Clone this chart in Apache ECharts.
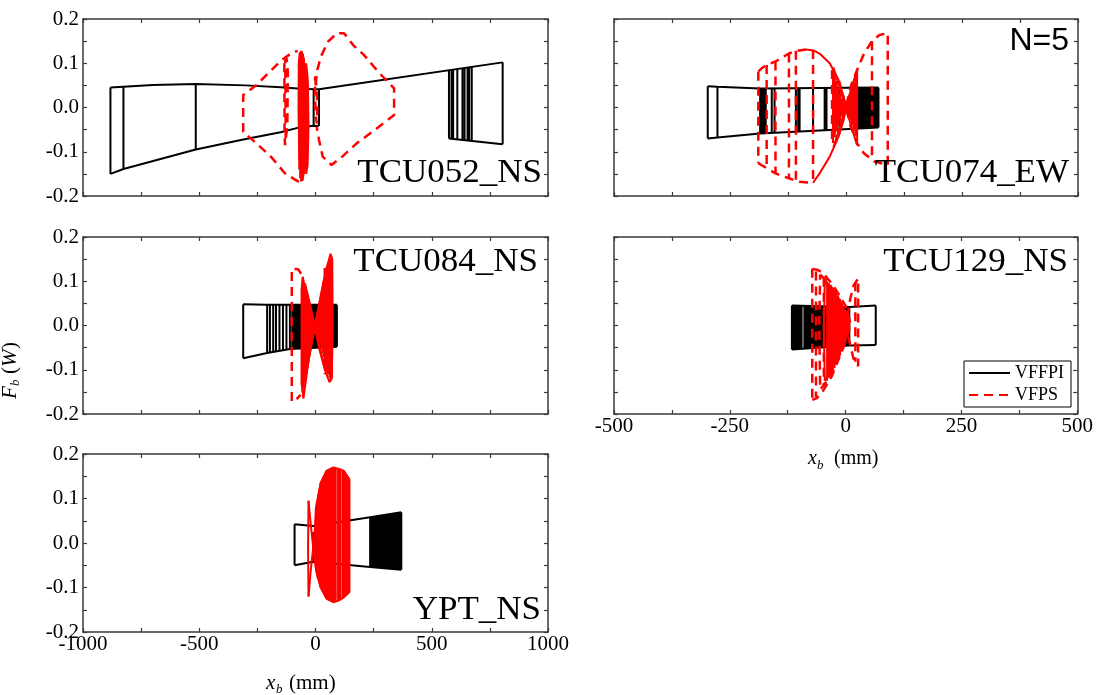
<!DOCTYPE html>
<html>
<head>
<meta charset="utf-8">
<script src="https://cdn.jsdelivr.net/npm/echarts@6/dist/echarts.min.js"></script>
<style>
  html, body { margin: 0; padding: 0; background: #fff; }
  #chart { width: 1096px; height: 695px; }
</style>
</head>
<body>
<div id="chart"></div>
<script>
// Record names shown in each panel
const panelNames = ['TCU052_NS', 'TCU074_EW', 'TCU084_NS', 'TCU129_NS', 'YPT_NS'];
const seriesNames = ['VFFPI', 'VFPS'];
// Axis ranges: bearing displacement x_b (mm) and normalised force F_b/W
const wideX = [-1000, 1000];
const narrowX = [-500, 500];
const forceY = [-0.2, 0.2];

// Edges are polylines [x_b, F_b/W]; strokes are reversal segments [x_b, F_top, F_bottom].

// ---------- TCU052_NS ----------
const tcu052VffpiEdges = [
  [[-882,0.045],[-826,0.047],[-700,0.051],[-515,0.053],[-300,0.050],[-150,0.046],[-77,0.043],[-8,0.041],[15,0.041]],
  [[-882,-0.150],[-826,-0.139],[-515,-0.095],[-300,-0.071],[-150,-0.056],[-77,-0.046],[-8,-0.041],[15,-0.042]],
  [[15,0.041],[805,0.102]],
  [[574,-0.070],[805,-0.083]]
];
const tcu052VffpiStrokes = [
  [-882,0.045,-0.150],[-826,0.047,-0.139],[-515,0.053,-0.095],[-8,0.041,-0.041],[15,0.041,-0.042],
  [574,0.084,-0.070],[585,0.085,-0.071],[592,0.085,-0.071],[610,0.087,-0.072],[632,0.088,-0.073],
  [641,0.089,-0.074],[654,0.090,-0.075],[661,0.091,-0.075],[672,0.092,-0.076],[805,0.102,-0.083]
];
const tcu052VfpsDashed = [
  [[-72,-0.168],[-131,-0.149],[-192,-0.111],[-254,-0.081],[-311,-0.055],[-311,0.028],[-254,0.051],[-146,0.107],[-100,0.124],[-77,0.128]],
  [[0,0.051],[8,0.085],[23,0.115],[54,0.149],[92,0.168],[123,0.168],[162,0.141],[208,0.119],[269,0.081],[338,0.043],[338,-0.017],[254,-0.051],[177,-0.081],[115,-0.111],[69,-0.130],[31,-0.111],[15,-0.073],[5,-0.043]],
  [[-134,0.100],[-133,-0.060],[-131,-0.085],[-126,-0.089],[-121,-0.040],[-119,0.080],[-124,0.111],[-130,0.106],[-128,-0.070]],
  [[-2,0.070],[4,0.050],[8,0.000],[6,-0.036],[1,-0.020],[-2,0.030],[-2,0.070]]
];
const tcu052VfpsDense = [
  [[-72,0.100],[-68,0.124],[-60,0.128],[-52,0.115],[-48,0.050],[-45,-0.050],[-48,-0.140],[-56,-0.166],[-64,-0.162],[-70,-0.110],[-73,0.000],[-72,0.100]],
  [[-40,0.100],[-33,0.060],[-30,-0.040],[-34,-0.130],[-40,-0.150],[-44,-0.050],[-40,0.100]]
];
const tcu052VfpsFill = [
  [-70,0.110,-0.140],[-66,0.124,-0.160],[-62,0.128,-0.167],[-58,0.127,-0.166],[-54,0.122,-0.160],
  [-50,0.112,-0.150],[-46,0.100,-0.138],[-42,0.088,-0.120],[-38,0.070,-0.100],[-34,0.050,-0.075]
];

// ---------- TCU074_EW ----------
const tcu074VffpiEdges = [
  [[-298,0.048],[-277,0.047],[-185,0.043],[70,0.045]],
  [[-298,-0.070],[-277,-0.068],[-185,-0.059],[70,-0.045]]
];
const tcu074VffpiStrokes = [
  [-298,0.048,-0.070],[-277,0.047,-0.068],[-185,0.043,-0.059],[-182,0.043,-0.059],[-179,0.043,-0.059],
  [-176,0.043,-0.058],[-173,0.043,-0.058],[-160,0.043,-0.058],[-154,0.043,-0.057],[-108,0.044,-0.055],
  [-103,0.044,-0.054],[-100,0.044,-0.054],[-71,0.044,-0.052],[-46,0.044,-0.051],[-42,0.044,-0.051],
  [-20,0.044,-0.049],[-14,0.044,-0.049],[23,0.045,-0.048],[26,0.045,-0.047],[29,0.045,-0.047],
  [32,0.045,-0.047],[35,0.045,-0.047],[38,0.045,-0.047],[41,0.045,-0.047],[44,0.045,-0.046],
  [47,0.045,-0.046],[50,0.045,-0.046],[53,0.045,-0.046],[56,0.045,-0.046],[59,0.045,-0.046],
  [62,0.045,-0.045],[65,0.045,-0.045],[68,0.045,-0.045],[70,0.045,-0.045]
];
const tcu074VfpsDashed = [
  [[-189,0.081],[-180,0.090],[-171,0.096],[-152,0.104],[-123,0.122],[-108,0.128],[-86,0.131]],
  [[-189,-0.126],[-171,-0.137],[-152,-0.149],[-123,-0.160],[-101,-0.168],[-71,-0.170]],
  [[-189,0.081],[-189,-0.126]],
  [[-171,0.096],[-171,-0.137]],
  [[-152,0.104],[-152,-0.149]],
  [[-123,0.122],[-123,-0.160]],
  [[-108,0.128],[-108,-0.165]],
  [[-71,0.130],[-71,-0.170]],
  [[-30,0.085],[-30,-0.085]],
  [[-15,-0.060],[0,0.000],[10,0.047],[24,0.085],[39,0.122],[56,0.150],[72,0.164],[90,0.168],[90,-0.130],[61,-0.122],[39,-0.104],[24,-0.081],[10,-0.043],[0,0.000],[-15,0.060]],
  [[56,0.150],[56,-0.118]]
];
const tcu074VfpsDense = [
  [[-86,0.131],[-70,0.129],[-57,0.122],[-35,0.100],[-16,0.062],[-5,0.024],[0,0.002],[-5,-0.028],[-16,-0.066],[-35,-0.111],[-57,-0.149],[-71,-0.170]],
  [[-27,0.090],[-15,0.050],[0,0.000],[12,-0.045],[24,-0.085]],
  [[-27,-0.090],[-15,-0.050],[0,0.000],[12,0.045],[24,0.085]]
];
const tcu074VfpsFill = [
  [-28,0.090,-0.080],[-24,0.075,-0.068],[-20,0.060,-0.055],[-16,0.045,-0.042],[-12,0.032,-0.030],
  [-8,0.020,-0.020],[-4,0.012,-0.012],[0,0.010,-0.010],[4,0.018,-0.018],[8,0.030,-0.028],
  [12,0.042,-0.040],[16,0.056,-0.052],[20,0.070,-0.064],[24,0.085,-0.078]
];

// ---------- TCU084_NS ----------
const tcu084VffpiEdges = [
  [[-311,0.048],[-208,0.047],[92,0.047]],
  [[-311,-0.074],[-208,-0.062],[-110,-0.053],[92,-0.048]]
];
const tcu084VffpiStrokes = [
  [-311,0.048,-0.074],[-208,0.047,-0.062],[-196,0.047,-0.061],[-182,0.047,-0.059],[-170,0.047,-0.058],
  [-155,0.047,-0.057],[-140,0.047,-0.056],[-125,0.047,-0.054],[-110,0.047,-0.053],
  [-100,0.047,-0.053],[-96,0.047,-0.053],[-92,0.047,-0.053],[-88,0.047,-0.053],[-84,0.047,-0.052],
  [-80,0.047,-0.052],[-76,0.047,-0.052],[-72,0.047,-0.052],[-68,0.047,-0.052],[-64,0.047,-0.052],
  [-60,0.047,-0.052],[-56,0.047,-0.051],[-52,0.047,-0.051],[-48,0.047,-0.051],[-44,0.047,-0.051],
  [-40,0.047,-0.051],[-36,0.047,-0.051],[-32,0.047,-0.050],[-28,0.047,-0.050],[-24,0.047,-0.050],
  [-20,0.047,-0.050],[-16,0.047,-0.050],[-12,0.047,-0.050],[-8,0.047,-0.050],[-4,0.047,-0.050],
  [0,0.047,-0.050],[4,0.047,-0.050],[8,0.047,-0.049],[12,0.047,-0.049],[16,0.047,-0.049],
  [20,0.047,-0.049],[24,0.047,-0.049],[28,0.047,-0.049],[32,0.047,-0.049],[36,0.047,-0.049],
  [40,0.047,-0.049],[44,0.047,-0.049],[48,0.047,-0.048],[52,0.047,-0.048],[56,0.047,-0.048],
  [60,0.047,-0.048],[64,0.047,-0.048],[68,0.047,-0.048],[72,0.047,-0.048],[76,0.047,-0.048],
  [80,0.047,-0.048],[84,0.047,-0.048],[88,0.047,-0.048],[92,0.047,-0.048]
];
const tcu084VfpsDashed = [
  [[-62,0.117],[-74,0.127],[-102,0.128],[-102,-0.172],[-84,-0.168],[-64,-0.157]],
  [[40,0.130],[40,-0.110]],
  [[62,0.150],[62,-0.125]]
];
const tcu084VfpsDense = [
  [[-55,0.110],[-35,0.060],[-10,0.010],[15,-0.050],[40,-0.100],[60,-0.128],[70,-0.120],[74,0.000],[72,0.150],[65,0.162],[45,0.125],[20,0.060],[-5,-0.005],[-30,-0.080],[-52,-0.165],[-60,-0.130],[-60,0.080],[-55,0.110]],
  [[-45,0.095],[-20,0.040],[5,-0.020],[30,-0.075],[52,-0.110],[60,0.000],[55,0.135],[35,0.100],[10,0.030],[-15,-0.035],[-40,-0.110],[-48,0.000],[-45,0.095]]
];
const tcu084VfpsFill = [
  [-55,0.105,-0.150],[-50,0.095,-0.140],[-45,0.085,-0.125],[-40,0.075,-0.110],[-35,0.065,-0.095],
  [-30,0.055,-0.082],[-25,0.045,-0.068],[-20,0.036,-0.055],[-15,0.027,-0.042],[-10,0.018,-0.030],
  [-5,0.012,-0.018],[0,0.012,-0.012],[5,0.020,-0.016],[10,0.032,-0.024],[15,0.045,-0.033],
  [20,0.058,-0.042],[25,0.070,-0.052],[30,0.082,-0.062],[35,0.094,-0.072],[40,0.106,-0.082],
  [45,0.118,-0.092],[50,0.128,-0.102],[55,0.138,-0.110],[60,0.146,-0.118],[65,0.152,-0.122],[70,0.150,-0.118]
];

// ---------- TCU129_NS ----------
const tcu129VffpiEdges = [
  [[-116,0.045],[8,0.042],[65,0.045]],
  [[-116,-0.054],[8,-0.045],[65,-0.044]]
];
const tcu129VffpiStrokes = [
  [-116,0.045,-0.054],[-113,0.045,-0.054],[-110,0.045,-0.054],[-107,0.045,-0.053],[-104,0.045,-0.053],
  [-101,0.045,-0.053],[-98,0.045,-0.053],[-95,0.045,-0.053],[-89,0.044,-0.052],[-86,0.044,-0.052],
  [-83,0.044,-0.052],[-80,0.044,-0.052],[-77,0.044,-0.051],[-74,0.044,-0.051],[-71,0.044,-0.051],
  [-68,0.044,-0.051],[-65,0.044,-0.050],[-62,0.044,-0.050],[-59,0.044,-0.050],[-56,0.044,-0.050],
  [-53,0.044,-0.049],[-50,0.044,-0.049],[-47,0.043,-0.049],[-44,0.043,-0.049],[-41,0.043,-0.048],
  [-38,0.043,-0.048],[-35,0.043,-0.048],[-32,0.043,-0.048],[-29,0.043,-0.047],[-26,0.043,-0.047],
  [-22,0.043,-0.047],[-18,0.043,-0.046],[-14,0.043,-0.046],[-10,0.042,-0.046],[-6,0.042,-0.045],
  [-2,0.042,-0.045],[2,0.042,-0.045],[6,0.042,-0.045],[8,0.042,-0.045],[65,0.045,-0.044]
];
const tcu129VfpsDashed = [
  [[-72,0.128],[-72,-0.168]],
  [[-64,0.122],[-64,-0.162]],
  [[-72,0.128],[-62,0.126],[-50,0.120],[-30,0.095],[-12,0.066],[3,0.038],[10,0.005],[3,-0.030],[-12,-0.068],[-30,-0.115],[-50,-0.150],[-62,-0.164],[-72,-0.168]],
  [[-55,0.115],[-40,0.100],[-20,0.070],[0,0.030],[6,0.000],[0,-0.030],[-20,-0.085],[-40,-0.125],[-55,-0.145],[-57,0.000],[-55,0.115]],
  [[-47,0.108],[-47,-0.135]],
  [[4,0.020],[10,0.060],[17,0.090],[27,0.106],[27,-0.092],[17,-0.075],[10,-0.045],[4,-0.015]],
  [[21,0.098],[21,-0.082]]
];
const tcu129VfpsDense = [
  [[-45,0.100],[-30,0.080],[-12,0.050],[2,0.015],[2,-0.020],[-12,-0.060],[-30,-0.100],[-45,-0.125],[-47,0.000],[-45,0.100]]
];
const tcu129VfpsFill = [
  [-40,0.100,-0.125],[-36,0.096,-0.118],[-32,0.092,-0.112],[-28,0.086,-0.104],[-24,0.080,-0.096],
  [-20,0.074,-0.088],[-16,0.068,-0.078],[-12,0.060,-0.068],[-8,0.052,-0.058],[-4,0.044,-0.048],
  [0,0.036,-0.038],[4,0.026,-0.026],[8,0.014,-0.014]
];

// ---------- YPT_NS ----------
const yptVffpiEdges = [
  [[-90,0.042],[-10,0.038],[235,0.058],[369,0.069]],
  [[-90,-0.050],[-10,-0.042],[235,-0.054],[369,-0.060]]
];
const yptVffpiStrokes = [
  [-90,0.042,-0.050],[-10,0.024,-0.042],
  [235,0.058,-0.054],[239,0.058,-0.054],[243,0.059,-0.055],[247,0.059,-0.055],[251,0.059,-0.055],
  [255,0.060,-0.055],[259,0.060,-0.055],[267,0.061,-0.056],[271,0.061,-0.056],[275,0.061,-0.056],
  [279,0.062,-0.056],[283,0.062,-0.057],[287,0.062,-0.057],[291,0.063,-0.057],[295,0.063,-0.057],
  [299,0.063,-0.057],[303,0.064,-0.058],[307,0.064,-0.058],[311,0.064,-0.058],[315,0.065,-0.058],
  [319,0.065,-0.058],[323,0.065,-0.058],[327,0.066,-0.059],[331,0.066,-0.059],[335,0.066,-0.059],
  [339,0.066,-0.059],[343,0.067,-0.059],[351,0.067,-0.059],[355,0.068,-0.060],[359,0.068,-0.060],
  [363,0.068,-0.060],[367,0.069,-0.060],[369,0.069,-0.060]
];
const yptVfpsDashed = [];
const yptVfpsDense = [
  [[-6,0.000],[2,0.080],[22,0.135],[47,0.162],[77,0.170],[105,0.166],[122,0.162],[146,0.143],[146,-0.110],[122,-0.122],[97,-0.130],[77,-0.133],[47,-0.125],[22,-0.100],[2,-0.060],[-6,0.000]],
  [[-30,0.095],[-22,0.050],[-12,0.000],[0,-0.050],[10,-0.080]],
  [[-30,-0.120],[-22,-0.070],[-12,-0.020],[0,0.030],[10,0.060]],
  [[-30,0.095],[-32,-0.010],[-30,-0.120]],
  [[141,0.008],[141,-0.020]]
];
const yptVfpsFill = [
  [2,0.080,-0.060],[7,0.095,-0.072],[12,0.110,-0.082],[17,0.122,-0.091],[22,0.135,-0.100],
  [27,0.140,-0.105],[32,0.147,-0.110],[37,0.152,-0.115],[42,0.157,-0.120],[47,0.162,-0.125],
  [52,0.164,-0.127],[57,0.166,-0.129],[62,0.167,-0.130],[67,0.168,-0.131],[72,0.169,-0.132],
  [77,0.170,-0.133],[82,0.170,-0.133],[87,0.169,-0.132],[97,0.167,-0.130],[102,0.166,-0.129],
  [107,0.166,-0.128],[117,0.163,-0.124],[122,0.162,-0.122],[127,0.158,-0.120],[132,0.155,-0.118],
  [137,0.150,-0.115],[141,0.147,-0.112]
];

// ---------- layout & styling ----------
const SERIF = '"Liberation Serif", "Times New Roman", serif';
const SANS = '"Liberation Sans", Arial, sans-serif';
const AXIS_COLOR = '#3a3a3a';

const panels = [
  { grid: { left: 83,  top: 19,  width: 465, height: 177 }, x: wideX,   step: 250, labelStep: 500, xLabels: false, yLabels: true,
    edges: tcu052VffpiEdges, strokes: tcu052VffpiStrokes, dashed: tcu052VfpsDashed, dense: tcu052VfpsDense, fill: tcu052VfpsFill },
  { grid: { left: 614, top: 19,  width: 464, height: 177 }, x: narrowX, step: 125, labelStep: 250, xLabels: false, yLabels: false,
    edges: tcu074VffpiEdges, strokes: tcu074VffpiStrokes, dashed: tcu074VfpsDashed, dense: tcu074VfpsDense, fill: tcu074VfpsFill },
  { grid: { left: 83,  top: 237, width: 465, height: 177 }, x: wideX,   step: 250, labelStep: 500, xLabels: false, yLabels: true,
    edges: tcu084VffpiEdges, strokes: tcu084VffpiStrokes, dashed: tcu084VfpsDashed, dense: tcu084VfpsDense, fill: tcu084VfpsFill },
  { grid: { left: 614, top: 237, width: 464, height: 177 }, x: narrowX, step: 125, labelStep: 250, xLabels: true,  yLabels: false,
    edges: tcu129VffpiEdges, strokes: tcu129VffpiStrokes, dashed: tcu129VfpsDashed, dense: tcu129VfpsDense, fill: tcu129VfpsFill },
  { grid: { left: 83,  top: 454, width: 465, height: 178 }, x: wideX,   step: 250, labelStep: 500, xLabels: true,  yLabels: true,
    edges: yptVffpiEdges, strokes: yptVffpiStrokes, dashed: yptVfpsDashed, dense: yptVfpsDense, fill: yptVfpsFill }
];

const blackLine = { color: '#000000', width: 2, type: 'solid' };
const redDashed = { color: '#ff0000', width: 2.5, type: [9, 6] };
const redDense  = { color: '#ff0000', width: 2, type: 'solid' };

const axisLine = { show: true, onZero: false, lineStyle: { color: AXIS_COLOR, width: 1.5 } };
const axisTick = { show: true, inside: true, length: 4, lineStyle: { color: AXIS_COLOR, width: 1.2 } };
const labelFont = { color: '#000', fontFamily: SERIF, fontSize: 21 };

const grids = [], xAxes = [], yAxes = [], series = [];

function pathSeries(name, gi, path, style, z) {
  return {
    type: 'line', name, xAxisIndex: gi * 2, yAxisIndex: gi * 2,
    data: path, symbol: 'none', showSymbol: false, silent: true, connectNulls: false,
    lineStyle: style, itemStyle: { color: style.color },
    emphasis: { disabled: true }, animation: false, clip: true, z
  };
}
// reversal segments joined into one polyline, broken by empty points
function strokePath(strokes) {
  const out = [];
  strokes.forEach(s => { out.push([s[0], s[1]], [s[0], s[2]], [s[0], '-']); });
  return out;
}

panels.forEach((p, gi) => {
  grids.push(Object.assign({ containLabel: false }, p.grid));
  const xFmt = v => (Math.round(v) % p.labelStep === 0 ? String(Math.round(v)) : '');
  const yFmt = v => { const t = Math.round(v * 100); return t % 10 === 0 ? (t / 100).toFixed(1) : ''; };
  xAxes.push({
    gridIndex: gi, type: 'value', position: 'bottom', min: p.x[0], max: p.x[1], interval: p.step,
    axisLine, axisTick, splitLine: { show: false },
    axisLabel: Object.assign({ show: p.xLabels, margin: 2, showMinLabel: true, showMaxLabel: true, formatter: xFmt }, labelFont)
  });
  xAxes.push({
    gridIndex: gi, type: 'value', position: 'top', min: p.x[0], max: p.x[1], interval: p.step,
    axisLine, axisTick, splitLine: { show: false }, axisLabel: { show: false }
  });
  yAxes.push({
    gridIndex: gi, type: 'value', position: 'left', min: forceY[0], max: forceY[1], interval: 0.05,
    axisLine, axisTick, splitLine: { show: false },
    axisLabel: Object.assign({ show: p.yLabels, margin: 4, showMinLabel: true, showMaxLabel: true, formatter: yFmt }, labelFont)
  });
  yAxes.push({
    gridIndex: gi, type: 'value', position: 'right', min: forceY[0], max: forceY[1], interval: 0.05,
    axisLine, axisTick, splitLine: { show: false }, axisLabel: { show: false }
  });
});

// black VFFPI loops first, red VFPS loops on top (dashed ones first so the legend uses the dash)
panels.forEach((p, gi) => {
  p.edges.forEach(path => series.push(pathSeries(seriesNames[0], gi, path, blackLine, 2)));
  series.push(pathSeries(seriesNames[0], gi, strokePath(p.strokes), blackLine, 2));
});
panels.forEach((p, gi) => p.dashed.forEach(path => series.push(pathSeries(seriesNames[1], gi, path, redDashed, 3))));
panels.forEach((p, gi) => {
  p.dense.forEach(path => series.push(pathSeries(seriesNames[1], gi, path, redDense, 3)));
  series.push(pathSeries(seriesNames[1], gi, strokePath(p.fill), redDense, 3));
});

function text(x, y, str, size, opt) {
  opt = opt || {};
  return {
    type: 'text', x, y, scaleX: opt.scaleX || 1, z: 20, silent: true,
    style: {
      text: str, fill: '#000', fontFamily: opt.family || SERIF, fontSize: size,
      fontStyle: opt.italic ? 'italic' : 'normal',
      align: opt.align || 'left', verticalAlign: 'middle',
      textAlign: opt.align || 'left', textVerticalAlign: 'middle'
    }
  };
}

const titleSpots = [[542, 173], [1069, 173], [538, 262], [1068, 262], [541, 610]];
const graphics = panelNames.map((n, i) =>
  text(titleSpots[i][0], titleSpots[i][1], n, 33, { align: 'right', scaleX: 1.06 }));
graphics.push(text(1069, 41, 'N=5', 32, { align: 'right', family: SANS }));

// x-axis names
graphics.push(text(808, 459, 'x', 20, { italic: true }));
graphics.push(text(817, 466, 'b', 13, { italic: true }));
graphics.push(text(834, 459, '(mm)', 20));
graphics.push(text(266, 683, 'x', 21, { italic: true }));
graphics.push(text(276, 690, 'b', 13, { italic: true }));
graphics.push(text(289, 683, '(mm)', 21));

// y-axis name, rotated to read upward
graphics.push({
  type: 'group', x: 10, y: 399, rotation: Math.PI / 2, silent: true,
  children: [
    text(0, 0, 'F', 21, { italic: true }),
    text(13, 6, 'b', 13, { italic: true }),
    text(25, 0, '(', 21),
    text(32, 0, 'W', 21, { italic: true }),
    text(50, 0, ')', 21)
  ]
});

const chart = echarts.init(document.getElementById('chart'), null, { renderer: 'canvas' });
chart.setOption({
  backgroundColor: '#ffffff',
  animation: false,
  grid: grids,
  xAxis: xAxes,
  yAxis: yAxes,
  legend: {
    show: true, data: seriesNames, orient: 'vertical',
    left: 964, top: 361, padding: [2, 7, 2, 4], itemGap: 2,
    itemWidth: 41, itemHeight: 14,
    itemStyle: { opacity: 0 },
    borderColor: '#000', borderWidth: 1, backgroundColor: '#fff',
    selectedMode: false, z: 10,
    textStyle: { fontFamily: SERIF, fontSize: 18, color: '#000', lineHeight: 20 }
  },
  series,
  graphic: graphics
});
</script>
</body>
</html>
